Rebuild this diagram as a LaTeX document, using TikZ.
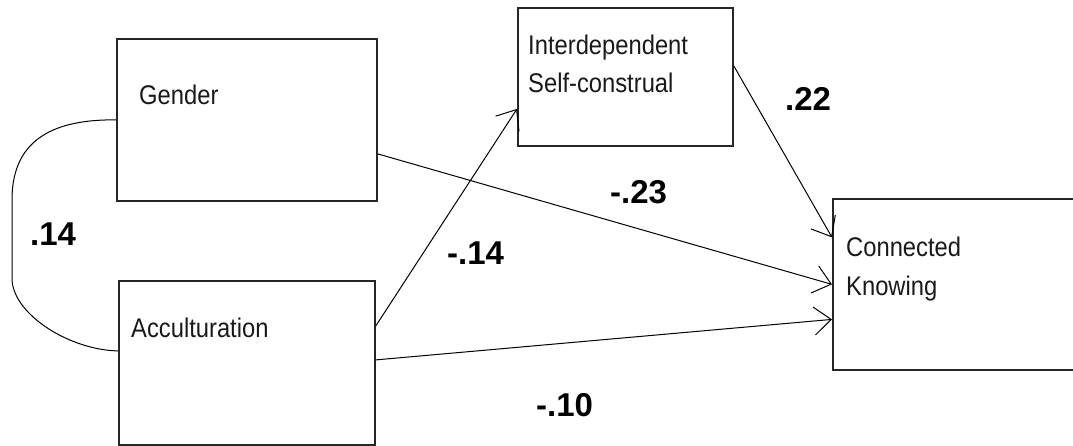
\documentclass[tikz,border=0pt]{standalone}
\usepackage{fontspec}
\setmainfont{Liberation Sans}
\newfontfamily\lblfont[FakeStretch=0.88]{Liberation Sans}
\usetikzlibrary{arrows.meta}
\begin{document}
\begin{tikzpicture}[x=1pt,y=-1pt,
  box/.style={draw=black!85, line width=1.8pt, rectangle, inner sep=0pt, anchor=north west},
  lbl/.style={inner sep=0pt, anchor=base west, font=\lblfont\fontsize{27}{32}\selectfont, text=black!90},
  coef/.style={inner sep=0pt, anchor=base west, font=\fontsize{33}{38}\selectfont\bfseries},
  conn/.style={line width=1pt, black},
  arr/.style={conn, -{Straight Barb[length=17pt, width=28pt, line width=1pt]}}]
\useasboundingbox (0,0) rectangle (1073,446);
% boxes
\node[box, minimum width=260pt, minimum height=162pt] (gender) at (116,38) {};
\node[box, minimum width=256pt, minimum height=164pt] (acc) at (118,280) {};
\node[box, minimum width=215pt, minimum height=138pt] (inter) at (517,7) {};
\node[box, minimum width=245pt, minimum height=171pt] (ck) at (832,198) {};
% labels
\node[lbl] (tgender) at (139,105) {Gender};
\node[lbl] (tacc) at (131,337) {Acculturation};
\node[lbl] (tinter1) at (528,55) {Interdependent};
\node[lbl] (tinter2) at (528,93) {Self-construal};
\node[lbl] (tck1) at (846,257) {Connected};
\node[lbl] (tck2) at (846,295) {Knowing};
% connectors
\draw[arr] ([yshift=-34pt]gender.east) -- (ck.west);
\draw[arr] ([yshift=37pt]acc.east) -- ([yshift=-32pt]inter.west);
\draw[arr] ([yshift=3pt]acc.east) -- ([yshift=-35pt]ck.west);
\draw[arr] ([yshift=11pt]inter.east) -- ([yshift=47pt]ck.west);
\draw[conn] (gender.west) .. controls (40,119) and (12,150) .. (12,200)
  -- (12,280) .. controls (14,315) and (70,350) .. ([yshift=12pt]acc.west);
% coefficients
\node[coef] (c1) at (30,246) {.14};
\node[coef] (c2) at (447,265) {-.14};
\node[coef] (c3) at (610,204) {-.23};
\node[coef] (c4) at (785,111) {.22};
\node[coef] (c5) at (536,416) {-.10};
\end{tikzpicture}
\end{document}
